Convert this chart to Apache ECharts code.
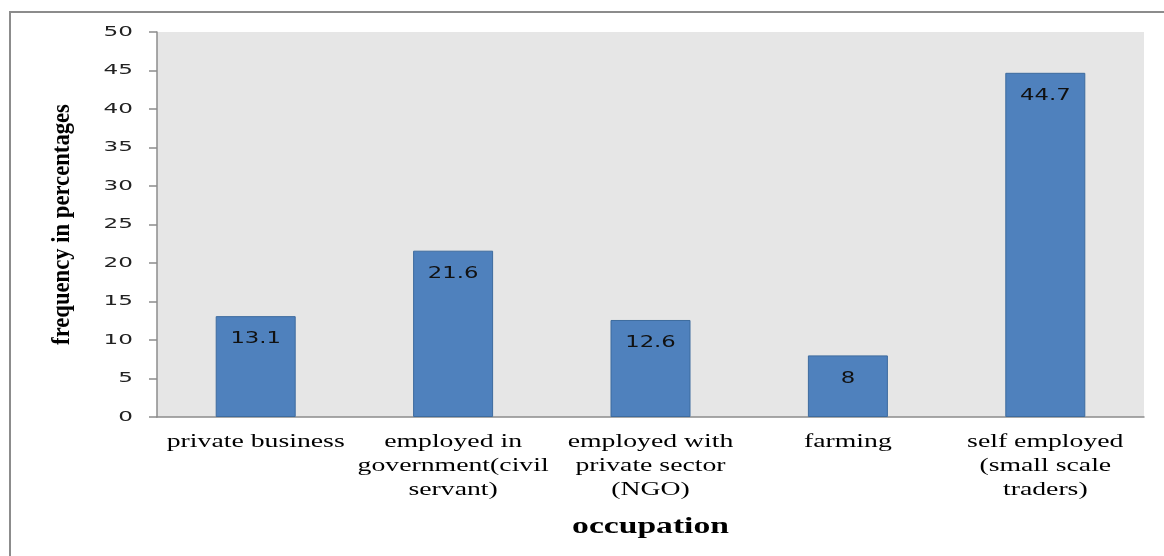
<!DOCTYPE html>
<html>
<head>
<meta charset="utf-8">
<script src="https://cdn.jsdelivr.net/npm/echarts@6/dist/echarts.min.js"></script>
<style>html,body{margin:0;padding:0;background:#fff;}#c{width:1164px;height:556px;}</style>
</head>
<body>
<div id="c"></div>
<script>
const categories = ['private business', 'employed in\ngovernment(civil\nservant)', 'employed with\nprivate sector\n(NGO)', 'farming', 'self employed\n(small scale\ntraders)'];
const values = [13.1, 21.6, 12.6, 8, 44.7];
const xTitle = 'occupation';
const yTitle = 'frequency in percentages';

// The reference image is horizontally stretched; emulate that by stretching glyphs
// around each text anchor (text stays real text, only drawn wider).
(function () {
  const proto = CanvasRenderingContext2D.prototype;
  const orig = proto.fillText;
  proto.fillText = function (t, x, y, w) {
    const f = this.font || '';
    let sx = 1, sy = 1;
    if (/(^|\D)14px/.test(f)) sx = 1.65;
    else if (/(^|\D)16px/.test(f)) sx = 1.42;
    else if (/(^|\D)19px/.test(f)) sx = 1.46;
    else if (/(^|\D)24px/.test(f)) sx = 1.4;
    else if (/(^|\D)22px/.test(f)) { sx = 1.03; sy = 1.18; }
    if (sx === 1 && sy === 1) {
      return w === undefined ? orig.call(this, t, x, y) : orig.call(this, t, x, y, w);
    }
    this.save();
    this.translate(x, y);
    this.scale(sx, sy);
    orig.call(this, t, 0, 0);
    this.restore();
  };
})();

const chart = echarts.init(document.getElementById('c'));
chart.setOption({
  animation: false,
  backgroundColor: '#fff',
  graphic: [{
    type: 'rect', silent: true, z: 100,
    shape: {x: 10, y: 12, width: 1200, height: 600},
    style: {fill: 'none', stroke: '#8c8c8c', lineWidth: 2}
  }],
  grid: {left: 157, top: 32, right: 20, bottom: 139, show: true, backgroundColor: '#e6e6e6', borderWidth: 0},
  xAxis: {
    type: 'category', data: categories,
    name: xTitle, nameLocation: 'middle', nameGap: 98,
    nameTextStyle: {fontFamily: 'Liberation Serif', fontWeight: 'bold', fontSize: 24, color: '#000'},
    axisLine: {lineStyle: {color: '#8c8c8c', width: 1.5}},
    axisTick: {show: false},
    axisLabel: {fontFamily: 'Liberation Serif', fontSize: 19, color: '#000', lineHeight: 24, margin: 13, interval: 0}
  },
  yAxis: {
    type: 'value', min: 0, max: 50, interval: 5,
    name: yTitle, nameLocation: 'middle', nameGap: 84, nameRotate: 90,
    nameTextStyle: {fontFamily: 'Liberation Serif', fontWeight: 'bold', fontSize: 22, color: '#000'},
    axisLine: {show: true, lineStyle: {color: '#8c8c8c', width: 1.5}},
    axisTick: {show: true, length: 8, lineStyle: {color: '#8c8c8c', width: 1.5}},
    splitLine: {show: false},
    axisLabel: {fontFamily: 'DejaVu Sans', fontSize: 14, color: '#222', margin: 24}
  },
  series: [{
    type: 'bar', data: values, barWidth: 80,
    itemStyle: {color: '#4f81bd', borderColor: '#3d6b9e', borderWidth: 1},
    label: {show: true, position: 'insideTop', distance: 15, fontFamily: 'DejaVu Sans', fontSize: 16, color: '#111'}
  }]
});
</script>
</body>
</html>
